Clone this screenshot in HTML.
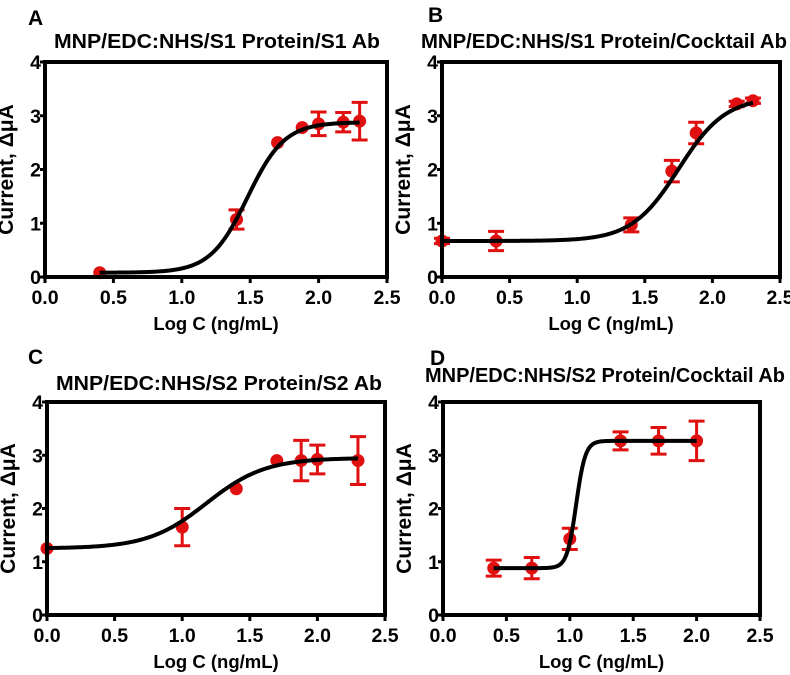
<!DOCTYPE html>
<html><head><meta charset="utf-8"><style>
body{margin:0;background:#fff;}
svg{display:block;font-family:"Liberation Sans",Arial,sans-serif;font-weight:bold;}
</style></head><body>
<svg id="fig" width="790" height="675" viewBox="0 0 790 675"></svg>
<script>
const xTicks=[0,0.5,1,1.5,2,2.5];
const xTickLabels=["0.0","0.5","1.0","1.5","2.0","2.5"];
const yTicks=[0,1,2,3,4];
const yTickLabels=["0","1","2","3","4"];
const aX=[0.4,1.4,1.7,1.88,2.0,2.18,2.3];
const aY=[0.08,1.07,2.5,2.78,2.85,2.88,2.9];
const aErr=[0,0.18,0,0,0.22,0.18,0.35];
const aFit=[0.08,2.88,1.48,3.2];
const bX=[0,0.4,1.4,1.7,1.88,2.18,2.3];
const bY=[0.67,0.67,0.97,1.97,2.68,3.22,3.28];
const bErr=[0.05,0.18,0.13,0.2,0.2,0.05,0.05];
const bFit=[0.67,3.35,1.75,2.5];
const cX=[0,1.0,1.4,1.7,1.88,2.0,2.3];
const cY=[1.25,1.65,2.37,2.9,2.9,2.92,2.9];
const cErr=[0,0.35,0,0,0.38,0.27,0.45];
const cFit=[1.25,2.95,1.18,2.0];
const dX=[0.4,0.7,1.0,1.4,1.7,2.0];
const dY=[0.88,0.88,1.43,3.27,3.27,3.27];
const dErr=[0.15,0.2,0.2,0.17,0.25,0.37];
const dFit=[0.88,3.27,1.05,12];
const panels=[
 {letter:"A",title:"MNP/EDC:NHS/S1 Protein/S1 Ab",L:45,R:387,T:62,B:277,x:aX,y:aY,e:aErr,f:aFit,x0:0.4,x1:2.3,tx:54,tw:326,to:14,lo:37,lx:28},
 {letter:"B",title:"MNP/EDC:NHS/S1 Protein/Cocktail Ab",L:442,R:780,T:62,B:277,x:bX,y:bY,e:bErr,f:bFit,x0:0,x1:2.3,tx:421,tw:366,to:14,lo:40,lx:428},
 {letter:"C",title:"MNP/EDC:NHS/S2 Protein/S2 Ab",L:47,R:385,T:402,B:615,x:cX,y:cY,e:cErr,f:cFit,x0:0,x1:2.3,tx:56,tw:326,to:12,lo:38,lx:28},
 {letter:"D",title:"MNP/EDC:NHS/S2 Protein/Cocktail Ab",L:443,R:760,T:402,B:615,x:dX,y:dY,e:dErr,f:dFit,x0:0.4,x1:2.0,tx:425,tw:360,to:20,lo:37,lx:430}
];
const NS="http://www.w3.org/2000/svg";
const svg=document.getElementById("fig");
function mk(tag,attrs,parent,text){const el=document.createElementNS(NS,tag);for(const k in attrs)el.setAttribute(k,attrs[k]);if(text!==undefined)el.textContent=text;(parent||svg).appendChild(el);return el;}
panels.forEach((p,pi)=>{
 const g=mk("g",{});
 
 
 const sx=v=>p.L+(v/2.5)*(p.R-p.L);
 const sy=v=>p.B-(v/4)*(p.B-p.T);
 const cx=(p.L+p.R)/2;
 let t=mk("text",{x:p.lx,y:p.T-p.lo,"font-size":21},g,p.letter);
 
 t=mk("text",{x:p.tx,y:p.T-p.to,"font-size":20.5,textLength:p.tw,lengthAdjust:"spacingAndGlyphs"},g,p.title);
 
 let d="";const f=p.f;
 for(let i=0;i<=200;i++){const xv=p.x0+(p.x1-p.x0)*i/200;const yv=f[0]+(f[1]-f[0])/(1+Math.pow(10,(f[2]-xv)*f[3]));d+=(i?"L":"M")+sx(xv).toFixed(2)+","+sy(yv).toFixed(2);}
 p.x.forEach((xv,i)=>{
  const X=sx(xv),Y=sy(p.y[i]);
  if(p.e[i]>0){const y1=sy(p.y[i]+p.e[i]),y2=sy(p.y[i]-p.e[i]);
   const eb=mk("path",{d:`M${X},${y1}V${y2}M${X-8},${y1}H${X+8}M${X-8},${y2}H${X+8}`,stroke:"#e01010","stroke-width":3,fill:"none"},g);
   }
  const c=mk("circle",{cx:X,cy:Y,r:6.5,fill:"#e01010"},g);
  
 });
 const cu=mk("path",{d:d,stroke:"#000","stroke-width":4,fill:"none"},g);
 
 const fr=mk("rect",{x:p.L,y:p.T,width:p.R-p.L,height:p.B-p.T,fill:"none",stroke:"#000","stroke-width":4},g);
 
 xTicks.forEach((v,i)=>{
  const tk=mk("line",{x1:sx(v),x2:sx(v),y1:p.B,y2:p.B+6,stroke:"#000","stroke-width":3},g);
  
  const tl=mk("text",{x:sx(v),y:p.B+27,"font-size":19.5,"text-anchor":"middle"},g,xTickLabels[i]);
  
 });
 yTicks.forEach((v,i)=>{
  const tk=mk("line",{x1:p.L-5,x2:p.L,y1:sy(v),y2:sy(v),stroke:"#000","stroke-width":3},g);
  
  const tl=mk("text",{x:p.L-4,y:sy(v)+7,"font-size":19.5,"text-anchor":"end"},g,yTickLabels[i]);
  
 });
 t=mk("text",{x:cx,y:p.B+53,"font-size":18.5,"text-anchor":"middle"},g,"Log C (ng/mL)");
 
 const my=(p.T+p.B)/2;
 t=mk("text",{x:p.L-32,y:my,"font-size":21,"text-anchor":"middle",transform:`rotate(-90 ${p.L-32} ${my})`},g,"Current, ΔμA");
 
});
</script>
</body></html>
